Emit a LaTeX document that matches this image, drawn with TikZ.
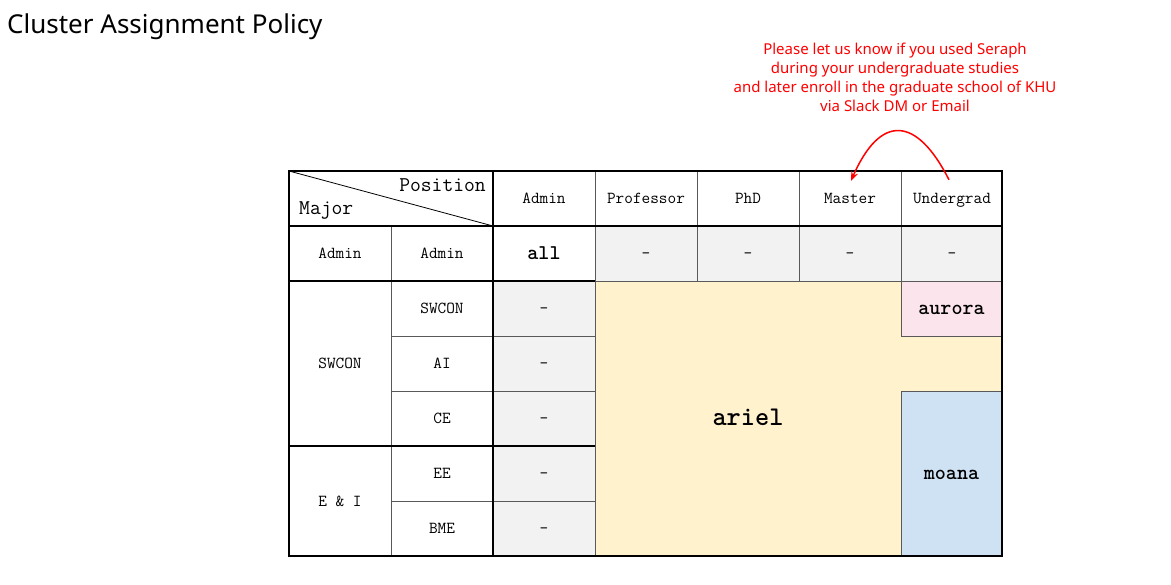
\documentclass[tikz,border=0pt]{standalone}
\usepackage{fontspec}
\setmainfont{Noto Sans}
\usetikzlibrary{arrows.meta}
\definecolor{cellgray}{RGB}{242,242,242}
\definecolor{cellyellow}{RGB}{255,242,204}
\definecolor{cellpink}{RGB}{252,228,236}
\definecolor{cellblue}{RGB}{207,226,243}
\definecolor{notered}{RGB}{255,0,0}
\begin{document}
\begin{tikzpicture}[x=1pt,y=-1pt,
        thinline/.style={draw=black!65,line width=0.9pt},
        thickline/.style={draw=black,line width=1.6pt},
        cell/.style={minimum width=102pt,minimum height=55pt,inner sep=0pt,text height=10pt,text depth=0pt,font=\ttfamily\fontsize{16.8}{18}\selectfont},
        bigcell/.style={cell,text height=12pt,font=\ttfamily\bfseries\fontsize{21}{22}\selectfont}]
        \useasboundingbox (0,0) rectangle (1171,585);
        \fill[cellgray] (493,281) rectangle (595,556);
        \fill[cellgray] (595,226) rectangle (1002,281);
        \fill[cellyellow] (595,281) rectangle (901,556);
        \fill[cellyellow] (901,336) rectangle (1002,391);
        \fill[cellpink] (901,281) rectangle (1002,336);
        \fill[cellblue] (901,391) rectangle (1002,556);
        \draw[thinline] (391,226) -- (391,556);
        \draw[thinline] (595,171) -- (595,556);
        \foreach \x in {697,799,901} \draw[thinline] (\x,171) -- (\x,281);
        \draw[thinline] (901,281) -- (901,336) -- (1002,336);
        \draw[thinline] (1002,391) -- (901,391) -- (901,556);
        \draw[thinline] (595,281) -- (1002,281);
        \foreach \y in {336,391,501} \draw[thinline] (391,\y) -- (595,\y);
        \draw[draw=black,line width=0.8pt] (289,171) -- (493,226);
        \draw[thickline] (289,226) -- (1002,226);
        \draw[thickline] (289,281) -- (595,281);
        \draw[thickline] (289,446) -- (595,446);
        \draw[thickline] (493,171) -- (493,556);
        \draw[thickline] (289,171) rectangle (1002,556);
        \node[anchor=base east,inner sep=0pt,font=\ttfamily\fontsize{21}{22}\selectfont] (pos) at (486,192) {Position};
        \node[anchor=base west,inner sep=0pt,font=\ttfamily\fontsize{21}{22}\selectfont] (major) at (299,215) {Major};
        \foreach \t/\n [count=\i] in {Admin/hadm,Professor/hprof,PhD/hphd,Master/hms,Undergrad/hug}
                \node[cell] (\n) at (442+102*\i,198.5) {\t};
        \node[cell] (madm) at (340,253.5) {Admin};
        \node[cell] (sadm) at (442,253.5) {Admin};
        \node[bigcell] (all) at (544,253.5) {all};
        \foreach \i in {1,...,4} \node[cell] (none\i) at (544+102*\i,253.5) {-};
        \foreach \t [count=\i] in {SWCON,AI,CE,EE,BME} {
                \node[cell] (s\t) at (442,253.5+55*\i) {\t};
                \node[cell] (g\t) at (544,253.5+55*\i) {-};
        }
        \node[cell] (mswcon) at (340,363.5) {SWCON};
        \node[cell] (mei) at (340,501) {E \& I};
        \node[text height=14pt,text depth=0pt,font=\ttfamily\bfseries\fontsize{27}{28}\selectfont] (ariel) at (748,418.5) {ariel};
        \node[bigcell] (aurora) at (951.5,308.5) {aurora};
        \node[bigcell] (moana) at (951.5,473.5) {moana};
        \node[anchor=west,inner sep=0pt,font=\fontsize{26}{30}\selectfont] (title) at (7,27) {Cluster Assignment Policy};
        \node[text=notered,align=center,font=\fontsize{15}{19}\selectfont] (note) at (895,77.5) {Please let us know if you used Seraph\\during your undergraduate studies\\and later enroll in the graduate school of KHU\\via Slack DM or Email};
        \draw[notered,line width=1.5pt,-{Stealth[length=9pt,width=7pt]}] ([xshift=-3pt,yshift=-9pt]hug.north) .. controls +(-33,-65) and +(29,-66) .. ([xshift=1pt,yshift=-10pt]hms.north);
\end{tikzpicture}
\end{document}
